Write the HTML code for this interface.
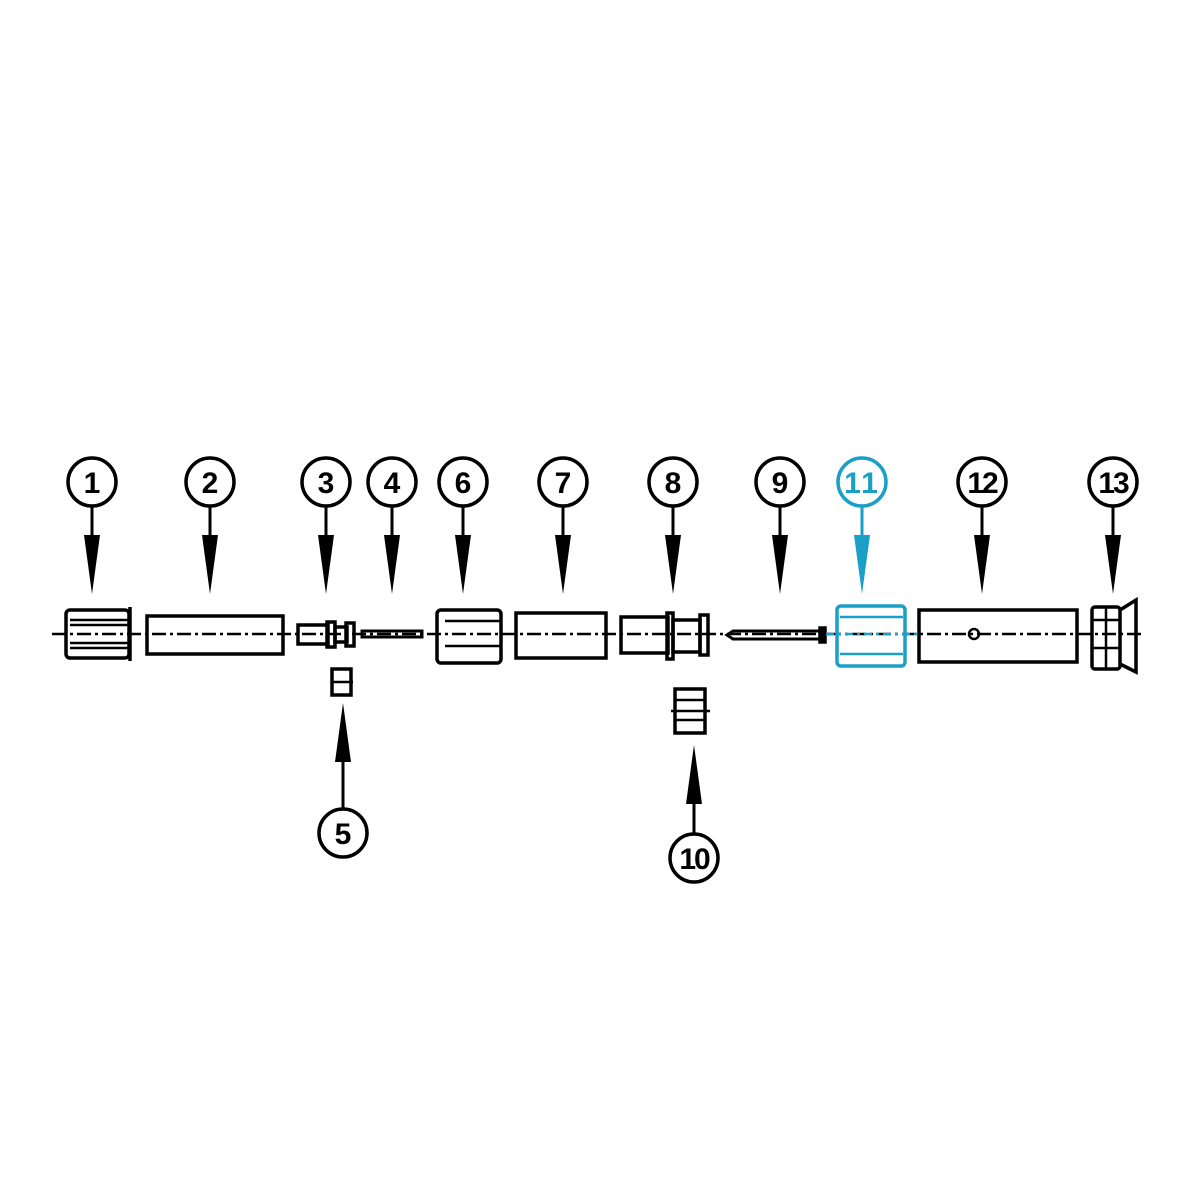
<!DOCTYPE html>
<html><head><meta charset="utf-8"><style>html,body{margin:0;padding:0;background:#fff;width:1200px;height:1200px;overflow:hidden}</style></head>
<body>
<svg width="1200" height="1200" viewBox="0 0 1200 1200" xmlns="http://www.w3.org/2000/svg" font-family="Liberation Sans, sans-serif">
<g stroke="#000" fill="none">
<line x1="52" y1="634" x2="1142" y2="634" stroke-width="2.5" stroke-dasharray="14,4,3,4"/>
</g>
<g stroke-width="3.5" fill="#fff">
<g stroke="#000">
<circle cx="92" cy="482" r="24"/><circle cx="210" cy="482" r="24"/><circle cx="326" cy="482" r="24"/><circle cx="392" cy="482" r="24"/><circle cx="463" cy="482" r="24"/><circle cx="563" cy="482" r="24"/><circle cx="673" cy="482" r="24"/><circle cx="780" cy="482" r="24"/><circle cx="982" cy="482" r="24"/><circle cx="1113" cy="482" r="24"/>
<circle cx="343" cy="833" r="24"/><circle cx="694" cy="858" r="24"/>
</g>
<circle cx="862" cy="482" r="24" stroke="#1a9fc6"/>
</g>
<g stroke="#000" stroke-width="3">
<line x1="92" y1="506" x2="92" y2="540"/><line x1="210" y1="506" x2="210" y2="540"/><line x1="326" y1="506" x2="326" y2="540"/><line x1="392" y1="506" x2="392" y2="540"/><line x1="463" y1="506" x2="463" y2="540"/><line x1="563" y1="506" x2="563" y2="540"/><line x1="673" y1="506" x2="673" y2="540"/><line x1="780" y1="506" x2="780" y2="540"/><line x1="982" y1="506" x2="982" y2="540"/><line x1="1113" y1="506" x2="1113" y2="540"/>
<line x1="343" y1="750" x2="343" y2="809"/><line x1="694" y1="795" x2="694" y2="834"/>
</g>
<line x1="862" y1="506" x2="862" y2="540" stroke="#1a9fc6" stroke-width="3"/>
<g fill="#000">
<polygon points="84,535 100,535 92,594"/><polygon points="202,535 218,535 210,594"/><polygon points="318,535 334,535 326,594"/><polygon points="384,535 400,535 392,594"/><polygon points="455,535 471,535 463,594"/><polygon points="555,535 571,535 563,594"/><polygon points="665,535 681,535 673,594"/><polygon points="772,535 788,535 780,594"/><polygon points="974,535 990,535 982,594"/><polygon points="1105,535 1121,535 1113,594"/>
<polygon points="343,703 335,762 351,762"/><polygon points="694,745 686,804 702,804"/>
</g>
<polygon points="854,535 870,535 862,594" fill="#1a9fc6"/>
<g font-size="30" font-weight="bold" text-anchor="middle" fill="#000">
<text x="92" y="493">1</text><text x="210" y="493">2</text><text x="326" y="493">3</text><text x="392" y="493">4</text><text x="463" y="493">6</text><text x="563" y="493">7</text><text x="673" y="493">8</text><text x="780" y="493">9</text><text x="982" y="493" letter-spacing="-2">12</text><text x="1113" y="493" letter-spacing="-2">13</text>
<text x="343" y="844">5</text><text x="694" y="869" letter-spacing="-2">10</text>
<text x="862" y="493" fill="#1a9fc6" letter-spacing="2">11</text>
</g>
<g stroke="#000" stroke-width="3.5" fill="none">
<rect x="66" y="610" width="63" height="48" rx="4"/><line x1="130" y1="607" x2="130" y2="661"/>
<line x1="70" y1="620" x2="128" y2="620" stroke-width="2.5"/><line x1="70" y1="625" x2="128" y2="625" stroke-width="2.5"/><line x1="70" y1="643" x2="128" y2="643" stroke-width="2.5"/><line x1="70" y1="648" x2="128" y2="648" stroke-width="2.5"/>
<rect x="147" y="616" width="136" height="38"/>
<rect x="298" y="625" width="30" height="19"/><rect x="327" y="622" width="8" height="25"/><rect x="335" y="627" width="12" height="15"/><rect x="346" y="623" width="8" height="23"/>
<rect x="362" y="631" width="60" height="6" stroke-width="3"/>
<rect x="332" y="669" width="19" height="26"/><line x1="332" y1="682" x2="353" y2="682" stroke-width="2.5"/>
<rect x="437" y="610" width="64" height="53" rx="4"/><line x1="445" y1="621" x2="500" y2="621" stroke-width="2.5"/><line x1="445" y1="646" x2="500" y2="646" stroke-width="2.5"/>
<rect x="516" y="613" width="90" height="45"/>
<rect x="621" y="617" width="47" height="36"/><rect x="667" y="613" width="6" height="46"/><rect x="673" y="620" width="27" height="32"/><rect x="700" y="615" width="8" height="40"/>
<path d="M733,631 L822,631 L822,639 L733,639 L727,635 Z" stroke-width="3"/><rect x="820" y="628" width="5" height="14" fill="#000"/>
<rect x="675" y="689" width="30" height="44"/><line x1="675" y1="700" x2="705" y2="700" stroke-width="2.5"/><line x1="675" y1="720" x2="705" y2="720" stroke-width="2.5"/><line x1="671" y1="711" x2="710" y2="711" stroke-width="2.5"/>
<rect x="919" y="610" width="158" height="52"/><circle cx="974" cy="634" r="5" stroke-width="2.5"/>
<rect x="1092" y="607" width="28" height="62" rx="3"/><path d="M1120,610 L1136,600 L1136,672 L1120,664" /><line x1="1092" y1="620" x2="1120" y2="620" stroke-width="2.5"/><line x1="1092" y1="648" x2="1120" y2="648" stroke-width="2.5"/><line x1="1106" y1="607" x2="1106" y2="669" stroke-width="2.5"/>
</g>
<g stroke="#1a9fc6" stroke-width="3.5" fill="none">
<rect x="837" y="606" width="68" height="60" rx="4"/><line x1="840" y1="617" x2="903" y2="617" stroke-width="2.5"/><line x1="840" y1="654" x2="903" y2="654" stroke-width="2.5"/>
<line x1="826" y1="634" x2="918" y2="634" stroke-width="2.5" stroke-dasharray="8,4,3,4"/>
</g>
</svg>
</body></html>
